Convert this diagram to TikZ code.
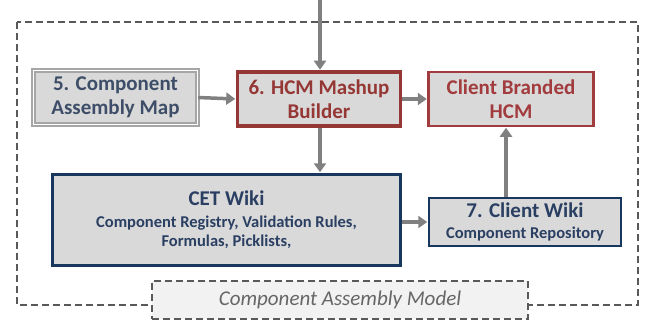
\documentclass[tikz,border=0pt]{standalone}
\usepackage{fontspec}
\setmainfont{Carlito}
\usetikzlibrary{arrows.meta,calc}
\definecolor{boxfill}{HTML}{D9D9D9}
\definecolor{darkred}{HTML}{953735}
\definecolor{midred}{HTML}{A23B3D}
\definecolor{navy}{HTML}{17375E}
\definecolor{navytext}{HTML}{2A3F62}
\definecolor{slate}{HTML}{3E4E68}
\definecolor{arrowgray}{HTML}{808080}
\definecolor{dashgray}{HTML}{595959}
\definecolor{labelfill}{HTML}{F2F2F2}
\definecolor{labeltext}{HTML}{666666}
\definecolor{framegray}{HTML}{A6A6A6}
\tikzset{
  every node/.style={inner sep=0pt, align=center},
  big/.style={font=\bfseries\fontsize{21}{24}\selectfont},
  mapbox/.style={big, fill=boxfill, draw=framegray, line width=1.3pt, double=white, double distance=1.6pt, text=slate},
  redbox/.style={big, fill=boxfill, draw=darkred, line width=3.5pt, text=darkred},
  redthin/.style={big, fill=boxfill, draw=midred, line width=2.5pt, text=midred},
  navybox/.style={fill=boxfill, draw=navy, line width=3.5pt, text=navytext, font=\bfseries\fontsize{16.5}{19}\selectfont},
  navythin/.style={fill=boxfill, draw=navy, line width=2.5pt, text=navytext, font=\bfseries\fontsize{16.5}{19}\selectfont},
  arr/.style={draw=arrowgray, line width=3.5pt, -{Triangle[length=9pt,width=12pt]}, shorten >=0.5pt},
  outerdash/.style={draw=dashgray, line width=1.8pt, dash pattern=on 7pt off 4pt},
  labelbox/.style={fill=labelfill, draw=dashgray, line width=1.8pt, dash pattern=on 7pt off 4pt,
    text=labeltext, font=\itshape\fontsize{21}{24}\selectfont}
}
\begin{document}
\begin{tikzpicture}[x=1pt,y=-1pt]
\useasboundingbox (0,0) rectangle (645,321);
\draw[outerdash] (17,22) rectangle (638,305);
\node[labelbox, minimum width=376pt, minimum height=38pt] (lbl) at (340,300) {Component Assembly Model};

\node[mapbox, minimum width=164pt, minimum height=54pt] (b5) at (115.5,97.5) {5. Component\\Assembly Map};
\node[redbox, minimum width=163pt, minimum height=54pt] (b6) at (319,99) {6. HCM Mashup\\Builder};
\node[redthin, minimum width=165pt, minimum height=54pt] (cb) at (511,99) {Client Branded\\HCM};
\node[navybox, minimum width=348pt, minimum height=91pt] (cet) at (226.5,220)
  {{\fontsize{21}{24}\selectfont CET Wiki}\\[3pt]
   Component Registry, Validation Rules,\\
   Formulas, Picklists,};
\node[navythin, minimum width=192pt, minimum height=48pt] (b7) at (525,222)
  {{\fontsize{21}{24}\selectfont 7. Client Wiki}\\[2pt]
   Component Repository};

\coordinate (top) at (320,0);
\coordinate (cbin) at ([xshift=-5pt]cb.south);
\draw[arr] (top) -- (top |- b6.north);
\draw[arr] (b5.east) -- (b6.west);
\draw[arr] (b6.east) -- (cb.west);
\draw[arr] (b6.south -| top) -- (top |- cet.north);
\draw[arr] ([yshift=-2pt]cet.east) -- ([yshift=-2pt]b7.west |- cet.east);
\draw[arr] (b7.north -| cbin) -- (cbin);
\end{tikzpicture}
\end{document}
